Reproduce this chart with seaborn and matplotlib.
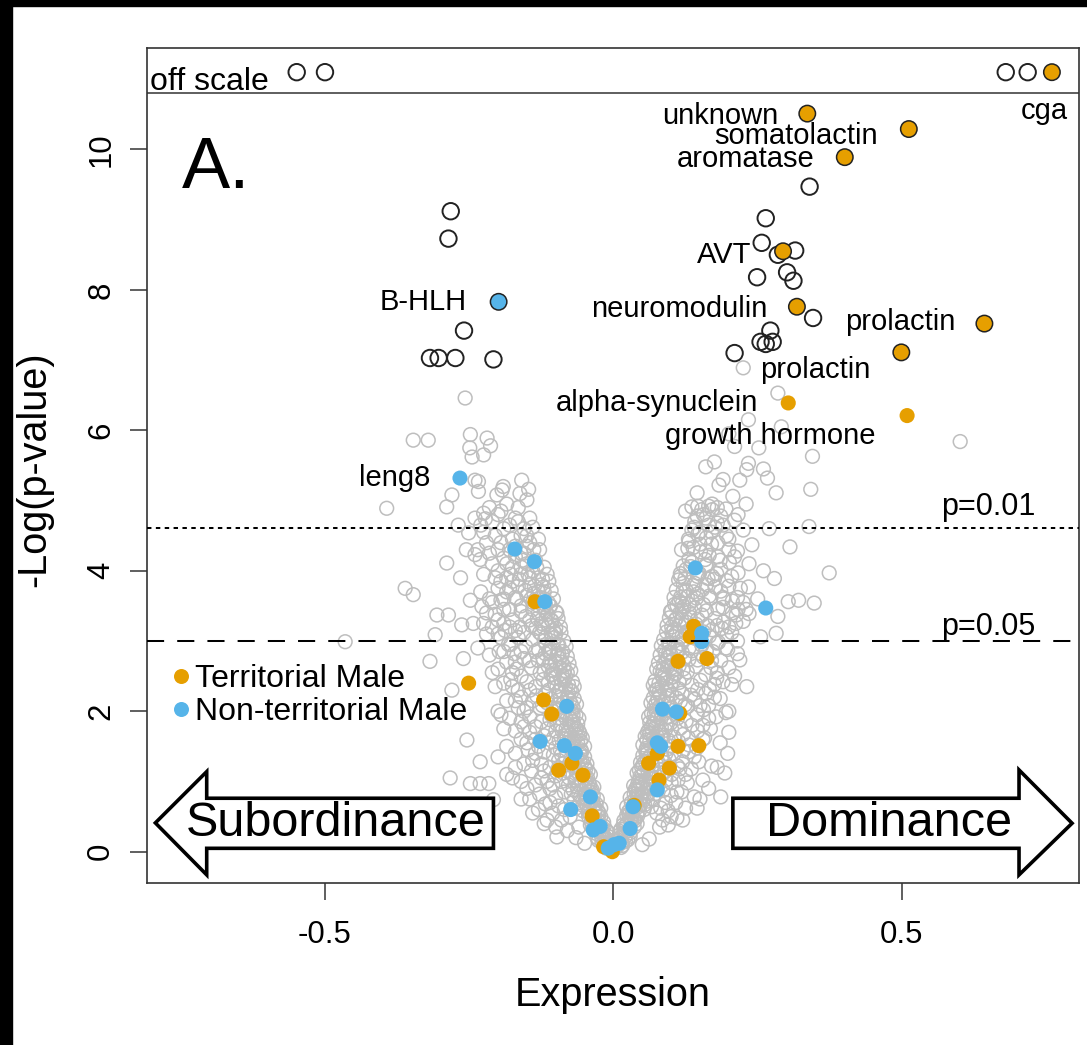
import numpy as np
import pandas as pd
import matplotlib
matplotlib.use('Agg')
import matplotlib.pyplot as plt
from matplotlib.lines import Line2D
from matplotlib.patches import Polygon, Rectangle
import seaborn as sns

ORANGE = '#E69F00'
BLUE = '#56B4E9'
GREY = '#BEBEBE'

# grey cloud: (expression, -log p) for the non-significant genes
left_arm = [
    (-0.004, 0.05), (-0.008, 0.12), (-0.012, 0.18), (-0.006, 0.15), (-0.015, 0.08), (-0.020, 0.14), (-0.010, 0.22), (-0.018, 0.25),
    (-0.012, 0.30), (-0.020, 0.35), (-0.025, 0.28), (-0.030, 0.40), (-0.017, 0.42), (-0.035, 0.33), (-0.028, 0.45), (-0.040, 0.38), (-0.022, 0.50),
    (-0.025, 0.55), (-0.032, 0.60), (-0.040, 0.52), (-0.045, 0.65), (-0.030, 0.68), (-0.052, 0.58), (-0.036, 0.72), (-0.058, 0.70), (-0.048, 0.75), (-0.065, 0.62),
    (-0.035, 0.80), (-0.042, 0.85), (-0.050, 0.90), (-0.060, 0.82), (-0.070, 0.88), (-0.045, 0.95), (-0.055, 1.00), (-0.078, 0.95), (-0.066, 1.02), (-0.085, 0.85), (-0.040, 0.78), (-0.090, 1.00),
    (-0.045, 1.05), (-0.052, 1.12), (-0.060, 1.20), (-0.070, 1.10), (-0.080, 1.15), (-0.088, 1.25), (-0.100, 1.08), (-0.058, 1.30), (-0.075, 1.28), (-0.095, 1.30), (-0.110, 1.20), (-0.048, 1.18), (-0.065, 1.05),
    (-0.050, 1.35), (-0.056, 1.45), (-0.062, 1.55), (-0.070, 1.40), (-0.080, 1.50), (-0.090, 1.38), (-0.100, 1.48), (-0.112, 1.55), (-0.120, 1.42), (-0.068, 1.60), (-0.085, 1.60), (-0.130, 1.50), (-0.058, 1.38),
    (-0.058, 1.68), (-0.064, 1.75), (-0.070, 1.85), (-0.078, 1.70), (-0.090, 1.80), (-0.100, 1.72), (-0.110, 1.88), (-0.120, 1.65), (-0.135, 1.78), (-0.145, 1.70), (-0.075, 1.90), (-0.095, 1.90), (-0.062, 1.82),
    (-0.065, 1.95), (-0.070, 2.05), (-0.076, 2.15), (-0.085, 2.00), (-0.095, 2.10), (-0.105, 2.00), (-0.115, 2.12), (-0.128, 2.05), (-0.140, 2.15), (-0.155, 2.00), (-0.080, 2.20), (-0.100, 2.22), (-0.072, 2.00),
    (-0.072, 2.28), (-0.078, 2.38), (-0.085, 2.45), (-0.092, 2.30), (-0.102, 2.40), (-0.112, 2.30), (-0.122, 2.45), (-0.135, 2.35), (-0.150, 2.42), (-0.165, 2.30), (-0.088, 2.50), (-0.108, 2.52), (-0.178, 2.45),
    (-0.080, 2.55), (-0.086, 2.65), (-0.093, 2.75), (-0.100, 2.60), (-0.110, 2.70), (-0.120, 2.58), (-0.130, 2.72), (-0.142, 2.62), (-0.155, 2.75), (-0.168, 2.60), (-0.098, 2.80), (-0.118, 2.82), (-0.185, 2.70),
    (-0.088, 2.85), (-0.095, 2.95), (-0.102, 3.05), (-0.110, 2.90), (-0.120, 3.00), (-0.130, 2.88), (-0.140, 3.02), (-0.152, 2.92), (-0.165, 3.05), (-0.178, 2.95), (-0.108, 3.10), (-0.128, 3.12), (-0.195, 3.05),
    (-0.100, 3.18), (-0.106, 3.28), (-0.114, 3.38), (-0.122, 3.20), (-0.132, 3.32), (-0.142, 3.22), (-0.152, 3.35), (-0.162, 3.20), (-0.175, 3.30), (-0.190, 3.25), (-0.118, 3.42), (-0.140, 3.45), (-0.205, 3.38),
    (-0.110, 3.50), (-0.120, 3.60), (-0.130, 3.70), (-0.140, 3.55), (-0.150, 3.65), (-0.160, 3.50), (-0.170, 3.62), (-0.180, 3.75), (-0.195, 3.58), (-0.125, 3.80), (-0.145, 3.80), (-0.165, 3.78), (-0.210, 3.55), (-0.220, 3.40),
    (-0.130, 3.90), (-0.140, 4.00), (-0.150, 4.10), (-0.160, 3.95), (-0.175, 4.05), (-0.185, 3.90), (-0.200, 4.00), (-0.155, 4.25), (-0.170, 4.20), (-0.190, 4.18), (-0.135, 4.15), (-0.210, 4.10), (-0.225, 3.95),
    (-0.145, 4.40), (-0.160, 4.50), (-0.175, 4.45), (-0.190, 4.60), (-0.205, 4.50), (-0.220, 4.40), (-0.230, 4.65), (-0.170, 4.75), (-0.200, 4.80), (-0.215, 4.90), (-0.185, 4.95), (-0.240, 4.75), (-0.155, 4.60),
    # packed along the inner edge
    (-0.006, 0.10), (-0.010, 0.28), (-0.016, 0.36), (-0.022, 0.62), (-0.028, 0.75), (-0.034, 0.92), (-0.040, 1.10), (-0.046, 1.25), (-0.050, 1.50), (-0.054, 1.62), (-0.060, 1.90),
    (-0.064, 2.10), (-0.068, 2.35), (-0.074, 2.58), (-0.080, 2.78), (-0.086, 3.00), (-0.092, 3.20), (-0.098, 3.40), (-0.104, 3.60), (-0.112, 3.85), (-0.120, 4.05), (-0.128, 4.30),
    (-0.012, 0.05), (-0.020, 0.20), (-0.026, 0.50), (-0.032, 0.55), (-0.038, 0.85), (-0.043, 0.98), (-0.050, 1.22), (-0.057, 1.40), (-0.062, 1.66), (-0.068, 1.80),
    (-0.073, 2.10), (-0.078, 2.25), (-0.083, 2.50), (-0.090, 2.70), (-0.095, 2.82), (-0.100, 3.10), (-0.108, 3.30), (-0.113, 3.55), (-0.120, 3.70),
    (-0.070, 1.55), (-0.075, 1.62), (-0.082, 1.75), (-0.088, 1.95), (-0.092, 2.20), (-0.098, 2.35), (-0.105, 2.58), (-0.112, 2.85), (-0.118, 3.05), (-0.125, 3.25),
    (-0.130, 3.50), (-0.138, 3.68), (-0.145, 3.90), (-0.065, 1.15), (-0.060, 0.95), (-0.050, 0.70), (-0.042, 0.62), (-0.035, 0.45), (-0.028, 0.20),
]

left_core = [
    (-0.009, 0.08), (-0.014, 0.20), (-0.019, 0.31), (-0.024, 0.38), (-0.030, 0.26), (-0.033, 0.47), (-0.016, 0.12), (-0.026, 0.16), (-0.038, 0.43), (-0.043, 0.50),
    (-0.027, 0.58), (-0.034, 0.66), (-0.039, 0.70), (-0.044, 0.57), (-0.048, 0.82), (-0.053, 0.66), (-0.057, 0.78), (-0.062, 0.92), (-0.037, 0.88), (-0.068, 0.74), (-0.073, 0.82), (-0.049, 0.98), (-0.041, 0.95),
    (-0.044, 1.15), (-0.049, 1.08), (-0.054, 1.28), (-0.059, 1.10), (-0.063, 1.35), (-0.067, 1.22), (-0.072, 1.45), (-0.077, 1.05), (-0.083, 1.35), (-0.087, 1.12), (-0.092, 1.45), (-0.055, 1.42), (-0.096, 1.18), (-0.104, 1.38),
    (-0.057, 1.58), (-0.060, 1.72), (-0.066, 1.68), (-0.070, 1.95), (-0.073, 1.78), (-0.077, 1.55), (-0.081, 1.88), (-0.084, 1.65), (-0.089, 1.72), (-0.094, 1.58), (-0.098, 1.82), (-0.104, 1.62), (-0.108, 1.95), (-0.115, 1.75), (-0.125, 1.85),
    (-0.068, 2.18), (-0.071, 2.42), (-0.075, 2.30), (-0.079, 2.06), (-0.083, 2.35), (-0.087, 2.12), (-0.091, 2.45), (-0.095, 2.28), (-0.099, 2.04), (-0.103, 2.48), (-0.108, 2.18), (-0.113, 2.40), (-0.118, 2.25), (-0.123, 2.08), (-0.133, 2.22), (-0.145, 2.30),
    (-0.077, 2.68), (-0.082, 2.92), (-0.085, 2.58), (-0.089, 2.80), (-0.093, 2.62), (-0.097, 2.95), (-0.101, 2.72), (-0.105, 2.52), (-0.109, 2.85), (-0.113, 2.64), (-0.117, 2.95), (-0.122, 2.75), (-0.127, 2.55), (-0.135, 2.85), (-0.145, 2.72), (-0.160, 2.85),
    (-0.091, 3.12), (-0.096, 3.32), (-0.100, 3.42), (-0.104, 3.15), (-0.109, 3.50), (-0.113, 3.22), (-0.117, 3.30), (-0.121, 3.48), (-0.125, 3.10), (-0.130, 3.40), (-0.135, 3.18), (-0.145, 3.30), (-0.155, 3.12), (-0.160, 3.42), (-0.170, 3.15), (-0.180, 3.45),
    (-0.108, 3.72), (-0.115, 3.95), (-0.118, 3.52), (-0.123, 3.88), (-0.127, 3.62), (-0.133, 4.05), (-0.137, 3.78), (-0.143, 3.60), (-0.148, 3.95), (-0.153, 3.72), (-0.158, 4.15), (-0.163, 3.88), (-0.168, 3.60), (-0.178, 3.95), (-0.185, 3.70), (-0.195, 3.85),
    (-0.130, 4.45), (-0.140, 4.62), (-0.150, 4.35), (-0.165, 4.70), (-0.180, 4.30), (-0.195, 4.40), (-0.200, 3.30), (-0.190, 2.85), (-0.175, 2.55), (-0.170, 2.15),
    (-0.160, 1.85), (-0.150, 1.55), (-0.140, 1.30), (-0.125, 1.05), (-0.110, 0.90), (-0.095, 0.65), (-0.075, 0.50), (-0.060, 0.35),
]

left_outer = [
    (-0.105, 0.55), (-0.118, 0.68), (-0.128, 0.82), (-0.135, 0.95), (-0.090, 0.45), (-0.100, 0.78), (-0.115, 1.00), (-0.142, 1.15), (-0.155, 1.25), (-0.125, 1.25),
    (-0.135, 1.40), (-0.148, 1.45), (-0.160, 1.60), (-0.170, 1.72), (-0.180, 1.90), (-0.155, 1.78), (-0.145, 1.92), (-0.165, 2.05), (-0.175, 2.35), (-0.185, 2.15),
    (-0.190, 2.40), (-0.160, 2.50), (-0.172, 2.82), (-0.182, 2.95), (-0.198, 2.85), (-0.200, 2.60), (-0.188, 3.15), (-0.200, 3.10), (-0.210, 3.20), (-0.215, 3.60),
    (-0.200, 3.75), (-0.190, 3.45), (-0.205, 3.90), (-0.215, 4.25), (-0.200, 4.30), (-0.185, 4.10), (-0.170, 4.35), (-0.160, 4.25), (-0.150, 4.50), (-0.138, 4.30),
    (-0.145, 4.75), (-0.165, 4.90), (-0.180, 4.65), (-0.195, 4.85), (-0.210, 4.70), (-0.225, 4.55), (-0.235, 4.30), (-0.230, 3.70), (-0.225, 3.25), (-0.215, 2.80),
    (-0.205, 2.35), (-0.195, 1.95), (-0.185, 1.50), (-0.170, 1.20), (-0.160, 1.00), (-0.145, 0.75), (-0.130, 0.60), (-0.115, 0.45), (-0.100, 0.35), (-0.085, 0.60),
    (-0.105, 0.95), (-0.120, 1.15), (-0.135, 1.60), (-0.150, 2.05), (-0.160, 2.20), (-0.170, 2.70), (-0.180, 3.20), (-0.190, 3.60), (-0.175, 3.85), (-0.160, 4.05),
]

right_arm = [
    (0.004, 0.06), (0.009, 0.13), (0.013, 0.20), (0.007, 0.17), (0.016, 0.09), (0.021, 0.15), (0.011, 0.24), (0.019, 0.27),
    (0.013, 0.32), (0.021, 0.37), (0.026, 0.30), (0.031, 0.42), (0.018, 0.44), (0.036, 0.35), (0.029, 0.47), (0.041, 0.40), (0.023, 0.52),
    (0.026, 0.57), (0.033, 0.62), (0.041, 0.54), (0.046, 0.67), (0.031, 0.70), (0.053, 0.60), (0.037, 0.74), (0.059, 0.72), (0.049, 0.77), (0.066, 0.64),
    (0.036, 0.82), (0.043, 0.87), (0.051, 0.92), (0.061, 0.84), (0.071, 0.90), (0.046, 0.97), (0.056, 1.02), (0.079, 0.97), (0.067, 1.04), (0.086, 0.87), (0.041, 0.80), (0.091, 1.02),
    (0.046, 1.07), (0.053, 1.14), (0.061, 1.22), (0.071, 1.12), (0.081, 1.17), (0.089, 1.27), (0.101, 1.10), (0.059, 1.32), (0.076, 1.30), (0.096, 1.32), (0.111, 1.22), (0.049, 1.20), (0.066, 1.07),
    (0.051, 1.37), (0.057, 1.47), (0.063, 1.57), (0.071, 1.42), (0.081, 1.52), (0.091, 1.40), (0.101, 1.50), (0.113, 1.57), (0.121, 1.44), (0.069, 1.62), (0.086, 1.62), (0.131, 1.52), (0.059, 1.40),
    (0.059, 1.70), (0.065, 1.77), (0.071, 1.87), (0.079, 1.72), (0.091, 1.82), (0.101, 1.74), (0.111, 1.90), (0.121, 1.67), (0.136, 1.80), (0.146, 1.72), (0.076, 1.92), (0.096, 1.92), (0.063, 1.84),
    (0.066, 1.97), (0.071, 2.07), (0.077, 2.17), (0.086, 2.02), (0.096, 2.12), (0.106, 2.02), (0.116, 2.14), (0.129, 2.07), (0.141, 2.17), (0.156, 2.02), (0.081, 2.22), (0.101, 2.24), (0.073, 2.02),
    (0.073, 2.30), (0.079, 2.40), (0.086, 2.47), (0.093, 2.32), (0.103, 2.42), (0.113, 2.32), (0.123, 2.47), (0.136, 2.37), (0.151, 2.44), (0.166, 2.32), (0.089, 2.52), (0.109, 2.54), (0.179, 2.47),
    (0.081, 2.57), (0.087, 2.67), (0.094, 2.77), (0.101, 2.62), (0.111, 2.72), (0.121, 2.60), (0.131, 2.74), (0.143, 2.64), (0.156, 2.77), (0.169, 2.62), (0.099, 2.82), (0.119, 2.84), (0.186, 2.72),
    (0.089, 2.87), (0.096, 2.97), (0.103, 3.07), (0.111, 2.92), (0.121, 3.02), (0.131, 2.90), (0.141, 3.04), (0.153, 2.94), (0.166, 3.07), (0.179, 2.97), (0.109, 3.12), (0.129, 3.14), (0.196, 3.07),
    (0.101, 3.20), (0.107, 3.30), (0.115, 3.40), (0.123, 3.22), (0.133, 3.34), (0.143, 3.24), (0.153, 3.37), (0.163, 3.22), (0.176, 3.32), (0.191, 3.27), (0.119, 3.44), (0.141, 3.47), (0.206, 3.40),
    (0.106, 3.52), (0.116, 3.62), (0.126, 3.72), (0.136, 3.57), (0.146, 3.67), (0.156, 3.52), (0.166, 3.64), (0.176, 3.77), (0.191, 3.60), (0.121, 3.82), (0.141, 3.82), (0.161, 3.80), (0.206, 3.57), (0.216, 3.45),
    (0.116, 3.92), (0.126, 4.02), (0.136, 4.12), (0.146, 3.97), (0.161, 4.07), (0.171, 3.92), (0.186, 4.02), (0.151, 4.27), (0.166, 4.22), (0.181, 4.20), (0.131, 4.17), (0.201, 4.12), (0.216, 3.97),
    (0.131, 4.42), (0.146, 4.52), (0.161, 4.47), (0.176, 4.62), (0.141, 4.70), (0.156, 4.80), (0.171, 4.95), (0.186, 4.78), (0.146, 4.92), (0.196, 4.50), (0.165, 4.65), (0.136, 4.58), (0.181, 4.40),
    # packed along the inner edge
    (0.006, 0.11), (0.011, 0.29), (0.017, 0.38), (0.023, 0.64), (0.029, 0.77), (0.035, 0.94), (0.041, 1.12), (0.047, 1.27), (0.051, 1.52), (0.055, 1.64), (0.061, 1.92),
    (0.065, 2.12), (0.069, 2.37), (0.075, 2.60), (0.081, 2.80), (0.087, 3.02), (0.093, 3.22), (0.099, 3.42), (0.105, 3.62), (0.113, 3.87), (0.121, 4.07), (0.129, 4.32),
    (0.013, 0.06), (0.021, 0.22), (0.027, 0.52), (0.033, 0.57), (0.039, 0.87), (0.044, 1.00), (0.051, 1.24), (0.058, 1.42), (0.063, 1.68), (0.069, 1.82),
    (0.074, 2.12), (0.079, 2.27), (0.084, 2.52), (0.091, 2.72), (0.096, 2.84), (0.101, 3.12), (0.109, 3.32), (0.114, 3.57), (0.121, 3.72),
    (0.071, 1.57), (0.076, 1.64), (0.083, 1.77), (0.089, 1.97), (0.093, 2.22), (0.099, 2.37), (0.106, 2.60), (0.113, 2.87), (0.119, 3.07), (0.126, 3.27),
    (0.131, 3.52), (0.139, 3.70), (0.146, 3.92), (0.066, 1.17), (0.061, 0.97), (0.051, 0.72), (0.043, 0.64), (0.036, 0.47), (0.029, 0.22),
]

right_core = [
    (0.008, 0.09), (0.013, 0.21), (0.018, 0.32), (0.023, 0.39), (0.029, 0.27), (0.032, 0.48), (0.015, 0.13), (0.025, 0.17), (0.037, 0.44), (0.042, 0.51),
    (0.028, 0.59), (0.035, 0.67), (0.040, 0.71), (0.045, 0.58), (0.049, 0.83), (0.054, 0.67), (0.058, 0.79), (0.063, 0.93), (0.038, 0.89), (0.069, 0.75), (0.074, 0.83), (0.050, 0.99), (0.042, 0.96),
    (0.045, 1.16), (0.050, 1.09), (0.055, 1.29), (0.060, 1.11), (0.064, 1.36), (0.068, 1.23), (0.073, 1.46), (0.078, 1.06), (0.084, 1.36), (0.088, 1.13), (0.093, 1.46), (0.056, 1.43), (0.097, 1.19), (0.105, 1.39),
    (0.058, 1.59), (0.061, 1.73), (0.067, 1.69), (0.071, 1.96), (0.074, 1.79), (0.078, 1.56), (0.082, 1.89), (0.085, 1.66), (0.090, 1.73), (0.095, 1.59), (0.099, 1.83), (0.105, 1.63), (0.109, 1.96), (0.116, 1.76), (0.126, 1.86),
    (0.069, 2.19), (0.072, 2.43), (0.076, 2.31), (0.080, 2.07), (0.084, 2.36), (0.088, 2.13), (0.092, 2.46), (0.096, 2.29), (0.100, 2.05), (0.104, 2.49), (0.109, 2.19), (0.114, 2.41), (0.119, 2.26), (0.124, 2.09), (0.134, 2.23), (0.146, 2.31),
    (0.078, 2.69), (0.083, 2.93), (0.086, 2.59), (0.090, 2.81), (0.094, 2.63), (0.098, 2.96), (0.102, 2.73), (0.106, 2.53), (0.110, 2.86), (0.114, 2.65), (0.118, 2.96), (0.123, 2.76), (0.128, 2.56), (0.136, 2.86), (0.146, 2.73), (0.161, 2.86),
    (0.092, 3.13), (0.097, 3.33), (0.101, 3.43), (0.105, 3.16), (0.110, 3.51), (0.114, 3.23), (0.118, 3.31), (0.122, 3.49), (0.126, 3.11), (0.131, 3.41), (0.136, 3.19), (0.146, 3.31), (0.156, 3.13), (0.161, 3.43), (0.171, 3.16), (0.181, 3.46),
    (0.109, 3.73), (0.116, 3.96), (0.119, 3.53), (0.124, 3.89), (0.128, 3.63), (0.134, 4.06), (0.138, 3.79), (0.144, 3.61), (0.149, 3.96), (0.154, 3.73), (0.159, 4.16), (0.164, 3.89), (0.169, 3.61), (0.179, 3.96), (0.186, 3.71), (0.196, 3.86),
    (0.130, 4.45), (0.140, 4.62), (0.150, 4.38), (0.160, 4.75), (0.170, 4.55), (0.125, 4.85), (0.180, 4.90), (0.190, 4.65), (0.200, 4.30), (0.210, 4.20), (0.220, 3.75), (0.225, 3.55),
    (0.200, 3.20), (0.195, 2.90), (0.180, 2.55), (0.175, 2.20), (0.165, 1.90), (0.155, 1.60), (0.140, 1.35), (0.125, 1.10), (0.110, 0.85), (0.090, 0.70), (0.075, 0.55),
]

right_outer = [
    (0.095, 0.58), (0.108, 0.70), (0.118, 0.85), (0.128, 0.98), (0.085, 0.45), (0.100, 0.80), (0.112, 1.02), (0.135, 1.18), (0.148, 1.28), (0.120, 1.28),
    (0.130, 1.42), (0.145, 1.48), (0.158, 1.62), (0.168, 1.75), (0.178, 1.92), (0.155, 1.80), (0.145, 1.95), (0.165, 2.08), (0.175, 2.38), (0.185, 2.18),
    (0.190, 2.42), (0.160, 2.52), (0.172, 2.85), (0.182, 2.98), (0.198, 2.88), (0.200, 2.62), (0.188, 3.18), (0.205, 3.12), (0.212, 3.25), (0.215, 3.62),
    (0.200, 3.78), (0.190, 3.48), (0.205, 3.92), (0.215, 4.28), (0.200, 4.45), (0.185, 4.15), (0.170, 4.38), (0.160, 4.28), (0.150, 4.55), (0.138, 4.33),
    (0.145, 4.78), (0.165, 4.92), (0.180, 4.68), (0.195, 4.88), (0.210, 4.72), (0.225, 4.58), (0.235, 4.10), (0.230, 3.45), (0.225, 3.28), (0.215, 2.82),
    (0.205, 2.38), (0.195, 1.98), (0.185, 1.55), (0.170, 1.22), (0.155, 1.02), (0.140, 0.78), (0.125, 0.62), (0.110, 0.48), (0.095, 0.38), (0.082, 0.62),
    (0.100, 0.98), (0.115, 1.18), (0.130, 1.62), (0.150, 2.08), (0.160, 2.25), (0.170, 2.72), (0.180, 3.22), (0.190, 3.62), (0.175, 3.88), (0.160, 4.08),
]

scatter_out = [
    # left side
    (-0.257, 6.46), (-0.347, 5.86), (-0.321, 5.86), (-0.248, 5.94), (-0.219, 5.89), (-0.249, 5.75), (-0.213, 5.78), (-0.225, 5.65), (-0.245, 5.62),
    (-0.234, 5.27), (-0.191, 5.20), (-0.159, 5.29), (-0.147, 5.16), (-0.162, 5.10), (-0.150, 5.01), (-0.393, 4.89), (-0.289, 4.91), (-0.280, 5.08),
    (-0.240, 5.29), (-0.234, 5.13), (-0.193, 5.15), (-0.202, 5.08), (-0.225, 4.82), (-0.222, 4.74), (-0.269, 4.65), (-0.251, 4.54), (-0.289, 4.11),
    (-0.240, 4.23), (-0.231, 4.16), (-0.265, 3.90), (-0.255, 4.30),
    (-0.121, 3.77), (-0.361, 3.75), (-0.347, 3.66), (-0.248, 3.58), (-0.228, 3.49), (-0.306, 3.37), (-0.286, 3.37), (-0.263, 3.23), (-0.243, 3.25),
    (-0.309, 3.09), (-0.465, 2.99), (-0.318, 2.71), (-0.260, 2.75), (-0.280, 2.30), (-0.235, 2.90), (-0.220, 3.10), (-0.210, 2.55), (-0.200, 2.00),
    (-0.190, 1.75), (-0.254, 1.59), (-0.200, 1.35), (-0.170, 1.40), (-0.231, 1.28), (-0.283, 1.05), (-0.248, 0.97), (-0.231, 0.97), (-0.216, 0.97),
    (-0.185, 1.10), (-0.175, 1.05), (-0.150, 0.90), (-0.160, 0.75), (-0.208, 0.74), (-0.110, 0.70), (-0.140, 0.55), (-0.120, 0.40), (-0.080, 0.30),
    (-0.098, 0.21), (-0.065, 0.20), (-0.050, 0.12),
    # right side
    (0.225, 6.89), (0.285, 6.53), (0.234, 6.15), (0.291, 6.05), (0.200, 5.95), (0.601, 5.84), (0.210, 5.77), (0.252, 5.75), (0.345, 5.63),
    (0.234, 5.53), (0.231, 5.44), (0.160, 5.48), (0.175, 5.55), (0.260, 5.45), (0.183, 5.22), (0.219, 5.29), (0.267, 5.32), (0.190, 5.30),
    (0.145, 5.11), (0.282, 5.11), (0.342, 5.16), (0.207, 5.06), (0.136, 4.91), (0.153, 4.87), (0.171, 4.87), (0.216, 4.80), (0.230, 4.95),
    (0.339, 4.63), (0.270, 4.60), (0.306, 4.34), (0.118, 4.30), (0.240, 4.37), (0.260, 4.00), (0.374, 3.97), (0.279, 3.89), (0.234, 3.77),
    (0.250, 3.60), (0.303, 3.56), (0.321, 3.58), (0.348, 3.54), (0.213, 3.37), (0.235, 3.39), (0.285, 3.35), (0.255, 3.06), (0.282, 3.11),
    (0.215, 3.00), (0.219, 2.73), (0.210, 2.50), (0.231, 2.35), (0.200, 2.00), (0.200, 1.70), (0.198, 1.40), (0.180, 1.20), (0.193, 1.12),
    (0.165, 0.90), (0.186, 0.78), (0.150, 0.75), (0.145, 0.62), (0.120, 0.45), (0.100, 0.50), (0.080, 0.35), (0.062, 0.18), (0.050, 0.10),
]

# significant genes without a colour (black open circles)
sig_x = [-0.549, -0.500, -0.282, -0.286, -0.259, -0.318, -0.303, -0.274, -0.208,
         0.680, 0.718, 0.340, 0.264, 0.257, 0.315, 0.285, 0.249, 0.301, 0.312,
         0.346, 0.272, 0.255, 0.264, 0.276, 0.210]
sig_y = [11.10, 11.10, 9.12, 8.73, 7.42, 7.03, 7.03, 7.03, 7.01,
         11.10, 11.10, 9.47, 9.02, 8.67, 8.56, 8.50, 8.18, 8.25, 8.13,
         7.60, 7.42, 7.26, 7.23, 7.26, 7.10]

# candidate genes inside the cloud
terr_x = [-0.136, -0.251, -0.121, -0.107, -0.095, -0.072, -0.053, -0.037, -0.017, -0.002,
          0.139, 0.133, 0.112, 0.162, 0.115, 0.076, 0.112, 0.148, 0.061, 0.097, 0.079, 0.036]
terr_y = [3.56, 2.40, 2.16, 1.96, 1.16, 1.26, 1.09, 0.51, 0.07, 0.00,
          3.21, 3.06, 2.71, 2.75, 1.97, 1.40, 1.50, 1.51, 1.26, 1.19, 1.02, 0.66]
nonterr_x = [-0.171, -0.137, -0.119, -0.081, -0.127, -0.085, -0.066, -0.040, -0.074, -0.023, -0.035, -0.009,
             0.001, 0.010, 0.142, 0.264, 0.153, 0.153, 0.085, 0.109, 0.076, 0.082, 0.076, 0.034, 0.029]
nonterr_y = [4.31, 4.13, 3.56, 2.07, 1.57, 1.51, 1.40, 0.78, 0.60, 0.36, 0.31, 0.05,
             0.10, 0.12, 4.04, 3.47, 3.11, 2.99, 2.03, 1.99, 1.55, 1.50, 0.88, 0.64, 0.33]

# labelled genes
lab_names = ['unknown', 'somatolactin', 'aromatase', 'AVT', 'neuromodulin', 'prolactin',
             'prolactin', 'cga', 'B-HLH', 'alpha-synuclein', 'growth hormone', 'leng8']
lab_x = [0.336, 0.512, 0.401, 0.294, 0.318, 0.643, 0.499, 0.760, -0.199, 0.303, 0.509, -0.266]
lab_y = [10.51, 10.29, 9.89, 8.55, 7.76, 7.52, 7.11, 11.10, 7.83, 6.39, 6.21, 5.32]
lab_group = ['Territorial Male'] * 8 + ['Non-territorial Male', 'Territorial Male',
                                        'Territorial Male', 'Non-territorial Male']
lab_outlined = [True] * 9 + [False] * 3

p_cuts = [0.01, 0.05]
p_labels = ['p=0.01', 'p=0.05']
off_scale = 10.81

# label placement (offset in points, alignment)
lab_offsets = [(-21, -1.4), (-22.3, -4.8), (-21.6, -1.4), (-23, -2.4), (-21, -1.9), (-21, 0.9),
               (-62, -12.5), (11.2, -28.1), (-23, 0), (-21.6, 0), (-98.6, -14.9), (-21.6, 0)]
lab_ha = ['right'] * 6 + ['center', 'right', 'right', 'right', 'center', 'right']

sns.set_theme(style='ticks')
plt.rcParams['font.family'] = ['Liberation Sans', 'DejaVu Sans']
plt.rcParams['axes.unicode_minus'] = False
plt.rcParams['text.color'] = 'black'
plt.rcParams['axes.labelcolor'] = 'black'

fig = plt.figure(figsize=(10.87, 10.45), dpi=100)
ax = fig.add_axes([0.13496, 0.15531, 0.8577, 0.79847])

grey = pd.DataFrame(left_arm + left_core + left_outer + right_arm + right_core + right_outer + scatter_out,
                    columns=['Expression', 'logp'])
sns.scatterplot(data=grey, x='Expression', y='logp', ax=ax, s=98, facecolors='none',
                edgecolor=GREY, linewidth=1.1, zorder=2)

colour_of = {'Territorial Male': ORANGE, 'Non-territorial Male': BLUE}
sns.scatterplot(x=terr_x, y=terr_y, ax=ax, s=118, color=ORANGE, edgecolor='none', linewidth=0, zorder=3)
sns.scatterplot(x=nonterr_x, y=nonterr_y, ax=ax, s=118, color=BLUE, edgecolor='none', linewidth=0, zorder=3)

sns.scatterplot(x=sig_x, y=sig_y, ax=ax, s=140, facecolors='none', edgecolor='#222222',
                linewidth=1.4, zorder=4)

labs = pd.DataFrame({'x': lab_x, 'y': lab_y, 'group': lab_group, 'outlined': lab_outlined})
for outlined, sub in labs.groupby('outlined'):
    sns.scatterplot(data=sub, x='x', y='y', hue='group', palette=colour_of, ax=ax,
                    s=140 if outlined else 118, edgecolor='#222222' if outlined else 'none',
                    linewidth=1.1 if outlined else 0, legend=False, zorder=5)

for name, x, y, off, ha in zip(lab_names, lab_x, lab_y, lab_offsets, lab_ha):
    ax.annotate(name, (x, y), xytext=off, textcoords='offset points', ha=ha, va='center',
                fontsize=21, zorder=7)

# significance thresholds
p_y = -np.log(p_cuts)
p_dash = [(2.2, 2.2), (8.5, 6.5)]
p_lift = [0.30, 0.21]
for yv, lab, dsh, lift in zip(p_y, p_labels, p_dash, p_lift):
    ax.axhline(yv, color='black', lw=1.45, dashes=dsh, zorder=4)
    ax.text(0.731, yv + lift, lab, ha='right', va='center', fontsize=22, zorder=7)

ax.axhline(off_scale, color='#333333', lw=1.1, zorder=4)
ax.text(-0.803, off_scale + 0.03, 'off scale', ha='left', va='baseline', fontsize=23, zorder=7)
ax.text(-0.748, 9.45, 'A.', ha='left', va='baseline', fontsize=52, zorder=7)

# direction arrows
sub_arrow = [(-0.208, 0.761), (-0.705, 0.761), (-0.705, 1.14), (-0.794, 0.41),
             (-0.705, -0.33), (-0.705, 0.048), (-0.208, 0.048)]
dom_arrow = [(0.207, 0.761), (0.703, 0.761), (0.703, 1.164), (0.795, 0.405),
             (0.703, -0.33), (0.703, 0.048), (0.207, 0.048)]
for verts in (sub_arrow, dom_arrow):
    ax.add_patch(Polygon(verts, closed=True, fc='white', ec='black', lw=2.6,
                         joinstyle='miter', zorder=6))
ax.text(-0.481, 0.40, 'Subordinance', ha='center', va='center', fontsize=35, zorder=7)
ax.text(0.477, 0.40, 'Dominance', ha='center', va='center', fontsize=35, zorder=7)

handles = [Line2D([], [], marker='o', ls='none', color=ORANGE, markersize=10.8, markeredgewidth=0),
           Line2D([], [], marker='o', ls='none', color=BLUE, markersize=10.8, markeredgewidth=0)]
ax.legend(handles, ['Territorial Male', 'Non-territorial Male'], loc='center left',
          bbox_to_anchor=(0.027, 0.2246), frameon=False, fontsize=23, handlelength=0.6,
          handletextpad=0.12, borderpad=0, borderaxespad=0, labelspacing=0.1)

ax.set_xlim(-0.809, 0.807)
ax.set_ylim(-0.4416, 11.44)
ax.set_xticks([-0.5, 0.0, 0.5])
ax.set_xticklabels(['-0.5', '0.0', '0.5'])
ax.set_yticks([0, 2, 4, 6, 8, 10])
ax.tick_params(axis='both', direction='out', length=12, width=1.2, color='#444444',
               labelsize=22.4, labelcolor='black')
ax.tick_params(axis='x', pad=14.9)
ax.tick_params(axis='y', pad=10)
for lab in ax.get_yticklabels():
    lab.set_rotation(90)
    lab.set_va('center')
for sp in ax.spines.values():
    sp.set_visible(True)
    sp.set_color('#333333')
    sp.set_linewidth(1.2)

ax.set_xlabel('Expression', fontsize=28.5)
ax.set_ylabel('-Log(p-value)', fontsize=28.5)
ax.xaxis.label.set_va('center')
ax.xaxis.set_label_coords(0.5, -0.135)
ax.yaxis.label.set_va('center')
ax.yaxis.set_label_coords(-0.121, 0.496)

# black strips along the top and left edge of the original image
fig.add_artist(Rectangle((0, 0), 12 / 1087, 1, transform=fig.transFigure, color='black', zorder=10))
fig.add_artist(Rectangle((0, 1 - 6 / 1045), 1, 6 / 1045, transform=fig.transFigure, color='black', zorder=10))

fig.savefig('out.png', dpi=100)
